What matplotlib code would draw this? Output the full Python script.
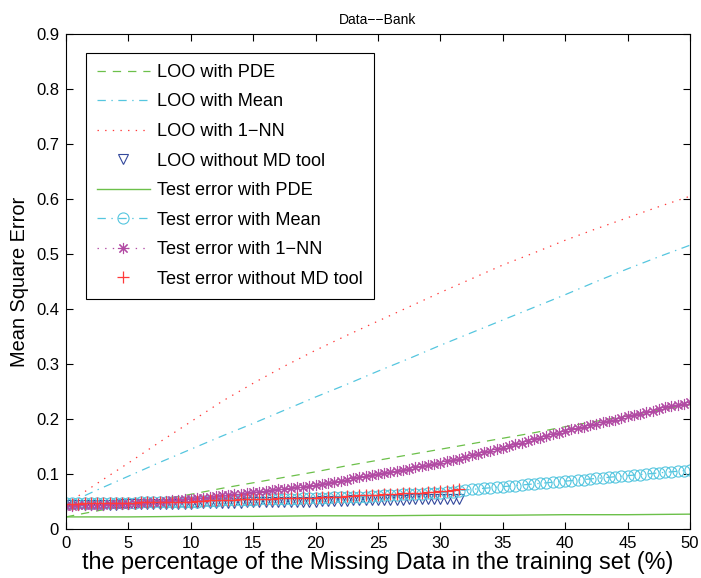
import numpy as np
import matplotlib
matplotlib.use("Agg")
import matplotlib.pyplot as plt

plt.rcParams['font.family'] = ['Liberation Sans', 'DejaVu Sans']
plt.rcParams['lines.scale_dashes'] = False

# ---- data ----
x_line = [0, 2.5, 5, 7.5, 10, 12.5, 15, 17.5, 20, 22.5, 25, 27.5, 30, 32.5,
          35, 37.5, 40, 42.5, 45, 47.5, 50]
loo_pde = [0.022, 0.033, 0.043, 0.053, 0.063, 0.074, 0.084, 0.094, 0.104, 0.115,
           0.125, 0.135, 0.145, 0.155, 0.165, 0.175, 0.186, 0.196, 0.206, 0.216, 0.226]
loo_mean = [0.045, 0.071, 0.096, 0.121, 0.145, 0.169, 0.192, 0.216, 0.240, 0.263,
            0.287, 0.310, 0.334, 0.357, 0.380, 0.403, 0.426, 0.450, 0.473, 0.495, 0.516]
loo_1nn = [0.045, 0.083, 0.120, 0.158, 0.195, 0.232, 0.265, 0.296, 0.325, 0.352,
           0.378, 0.404, 0.430, 0.455, 0.480, 0.502, 0.525, 0.546, 0.566, 0.586, 0.605]

x_pde = [0, 5, 10, 15, 20, 25, 30, 35, 40, 45, 50]
test_pde = [0.022, 0.022, 0.023, 0.023, 0.024, 0.024, 0.025, 0.025, 0.026, 0.026, 0.027]

x_full = [i * 0.5 for i in range(101)]
test_mean = [0.047, 0.047, 0.047, 0.047, 0.048, 0.048, 0.048, 0.048, 0.048, 0.048,
             0.048, 0.048, 0.049, 0.049, 0.049, 0.049, 0.049, 0.050, 0.050, 0.050,
             0.050,
             0.050, 0.051, 0.051, 0.051, 0.052, 0.052, 0.052, 0.053, 0.053, 0.053,
             0.054, 0.054, 0.054, 0.055, 0.055, 0.055, 0.055, 0.056, 0.056, 0.056,
             0.057, 0.057, 0.058, 0.058, 0.058, 0.059, 0.059, 0.059, 0.060, 0.060,
             0.061, 0.061, 0.062, 0.063, 0.063, 0.064, 0.064, 0.065, 0.065, 0.066,
             0.067, 0.068, 0.070, 0.071, 0.072, 0.073, 0.074, 0.075, 0.076, 0.077,
             0.078, 0.079, 0.080, 0.081, 0.082, 0.083, 0.084, 0.085, 0.086, 0.087,
             0.088, 0.089, 0.090, 0.091, 0.092, 0.093, 0.094, 0.095, 0.096, 0.097,
             0.098, 0.099, 0.100, 0.101, 0.102, 0.103, 0.104, 0.105, 0.106, 0.107]
test_1nn = [0.042, 0.042, 0.043, 0.043, 0.043, 0.044, 0.044, 0.045, 0.045, 0.046,
            0.046,
            0.047, 0.048, 0.049, 0.049, 0.050, 0.051, 0.052, 0.053, 0.054, 0.055,
            0.056, 0.057, 0.059, 0.060, 0.061, 0.062, 0.063, 0.064, 0.066, 0.067,
            0.068, 0.069, 0.071, 0.072, 0.073, 0.075, 0.076, 0.077, 0.079, 0.080,
            0.082, 0.084, 0.086, 0.088, 0.090, 0.092, 0.094, 0.096, 0.098, 0.100,
            0.102, 0.104, 0.106, 0.108, 0.110, 0.112, 0.114, 0.116, 0.118, 0.120,
            0.123, 0.126, 0.128, 0.131, 0.134, 0.137, 0.140, 0.142, 0.145, 0.148,
            0.151, 0.154, 0.157, 0.160, 0.163, 0.166, 0.169, 0.172, 0.175, 0.178,
            0.181, 0.183, 0.186, 0.189, 0.191, 0.194, 0.197, 0.199, 0.202, 0.205,
            0.208, 0.210, 0.213, 0.215, 0.218, 0.221, 0.223, 0.226, 0.228, 0.231]

x_part = [i * 0.5 for i in range(64)]
loo_nomd = [0.043, 0.043, 0.043, 0.043, 0.044, 0.044, 0.044, 0.044, 0.044, 0.045,
            0.045, 0.045, 0.045, 0.045, 0.045, 0.046, 0.046, 0.046, 0.046, 0.046,
            0.046, 0.047, 0.047, 0.047, 0.047, 0.048, 0.048, 0.048, 0.048, 0.049,
            0.049, 0.049, 0.049, 0.049, 0.050, 0.050, 0.050, 0.050, 0.050, 0.050,
            0.050, 0.051, 0.051, 0.051, 0.051, 0.051, 0.052, 0.052, 0.052, 0.052,
            0.052, 0.053, 0.053, 0.053, 0.053, 0.054, 0.054, 0.054, 0.054, 0.054,
            0.055, 0.055, 0.055, 0.055]
test_nomd = [0.046, 0.046, 0.046, 0.047, 0.047, 0.047, 0.047, 0.048, 0.048, 0.048,
             0.048, 0.048, 0.049, 0.049, 0.049, 0.049, 0.049, 0.050, 0.050, 0.050,
             0.050, 0.051, 0.051, 0.052, 0.052, 0.052, 0.053, 0.053, 0.054, 0.054,
             0.054, 0.055, 0.055, 0.055, 0.056, 0.056, 0.056, 0.056, 0.057, 0.057,
             0.057, 0.058, 0.058, 0.059, 0.059, 0.060, 0.060, 0.061, 0.061, 0.062,
             0.062, 0.063, 0.063, 0.064, 0.065, 0.065, 0.066, 0.066, 0.067, 0.068,
             0.069, 0.070, 0.071, 0.072]

labels = ['LOO with PDE', 'LOO with Mean', 'LOO with 1\u2212NN', 'LOO without MD tool',
          'Test error with PDE', 'Test error with Mean', 'Test error with 1\u2212NN',
          'Test error without MD tool']
xticks = [0, 5, 10, 15, 20, 25, 30, 35, 40, 45, 50]
yticks = [0, 0.1, 0.2, 0.3, 0.4, 0.5, 0.6, 0.7, 0.8, 0.9]

GREEN = '#6cc04a'
CYAN = '#55c6df'
RED = '#ff3a3a'
PINK = '#b24ba4'
BLUE = '#34499c'

fig = plt.figure(figsize=(7.01, 5.78), dpi=100)
ax = fig.add_axes([66/701, 49/578, 624/701, 495/578])

lw = 0.9
ax.plot(x_line, loo_pde, color=GREEN, lw=lw, dashes=(6, 5), label=labels[0])
ax.plot(x_line, loo_mean, color=CYAN, lw=lw, dashes=(6, 4, 1, 4), label=labels[1])
ax.plot(x_line, loo_1nn, color=RED, lw=lw, dashes=(1, 4.5), label=labels[2])
ax.plot(x_part, loo_nomd, ls='none', marker='v', ms=7.5, mfc='none', mec=BLUE,
        mew=0.8, label=labels[3])
ax.plot(x_pde, test_pde, color=GREEN, lw=1.0, label=labels[4])
ax.plot(x_full, test_mean, color=CYAN, lw=lw, dashes=(6, 4, 1, 4), marker='o', ms=8,
        mfc='none', mec=CYAN, mew=0.8, label=labels[5])
ax.plot(x_full, test_1nn, color=PINK, lw=lw, dashes=(1, 4.5), marker=(8, 2, 0), ms=8,
        mec=PINK, mew=0.8, label=labels[6])
ax.plot(x_part, test_nomd, ls='none', marker='+', ms=9, mec=RED, mew=0.9,
        label=labels[7])

ax.set_xlim(0, 50)
ax.set_ylim(0, 0.9)
ax.set_xticks(xticks)
ax.set_yticks(yticks)
ax.set_xticklabels([str(t) for t in xticks])
ax.set_yticklabels(['0'] + [str(t) for t in yticks[1:]])
ax.tick_params(direction='in', top=True, right=True, length=5, width=0.8,
               labelsize=12, pad=5)
for s in ax.spines.values():
    s.set_linewidth(0.8)

ax.set_title('Data\u2212\u2212Bank', fontsize=10, pad=7)
ax.set_xlabel('the percentage of the Missing Data in the training set (%)', fontsize=16.8,
              labelpad=0)
ax.set_ylabel('Mean Square Error', fontsize=14.4, labelpad=5)

leg = ax.legend(loc='upper left', bbox_to_anchor=(20/624, 476/495), borderaxespad=0,
                fancybox=False, edgecolor='black', framealpha=1, fontsize=13.1,
                numpoints=1, handlelength=2.9, handletextpad=0.4, labelspacing=0.69,
                borderpad=0.6)
leg.get_frame().set_linewidth(0.8)

fig.savefig('out.png', dpi=100)
